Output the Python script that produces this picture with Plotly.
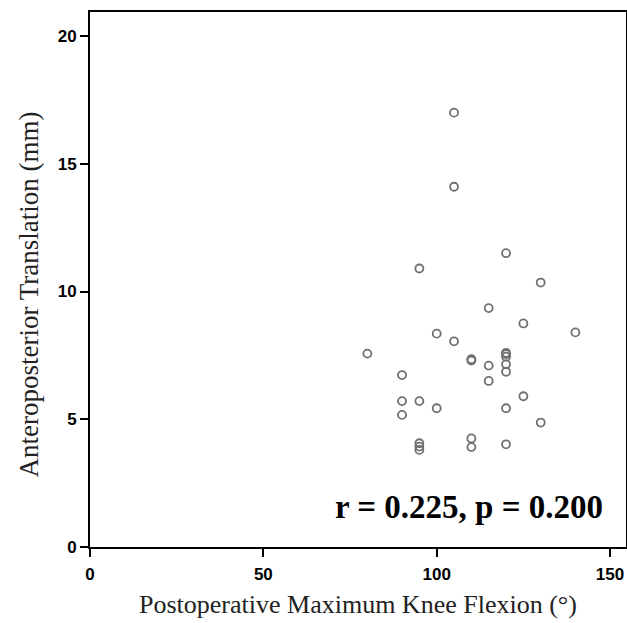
import plotly.graph_objects as go

flexion = [105, 105, 120, 95, 130, 115, 125, 140, 100, 105, 80,
           120, 120, 120, 120, 120, 110, 110, 115, 90, 115, 125,
           90, 95, 100, 120, 90, 130, 110, 110, 120, 95, 95, 95]
translation = [17.0, 14.1, 11.5, 10.9, 10.35, 9.35, 8.75, 8.4, 8.35, 8.05, 7.57,
               7.6, 7.55, 7.45, 7.15, 6.86, 7.35, 7.3, 7.1, 6.73, 6.5, 5.9,
               5.71, 5.71, 5.43, 5.43, 5.17, 4.87, 4.25, 3.91, 4.02, 4.06, 3.93, 3.8]

x_ticks = [0, 50, 100, 150]
y_ticks = [0, 5, 10, 15, 20]
x_title = "Postoperative Maximum Knee Flexion (°)"
y_title = "Anteroposterior Translation (mm)"
stat_text = "r = 0.225, p = 0.200"

fig = go.Figure()
fig.add_trace(go.Scatter(
    x=flexion, y=translation, mode="markers",
    marker=dict(symbol="circle-open", size=8, color="#707070",
                line=dict(width=1.8, color="#707070")),
    showlegend=False, hoverinfo="skip"))

axis_common = dict(
    showline=True, linecolor="black", linewidth=2, mirror=True,
    ticks="outside", ticklen=8, tickwidth=2, tickcolor="black",
    showgrid=False, zeroline=False, automargin=False,
    tickfont=dict(family="Liberation Sans, Arial, sans-serif", size=17, color="black", weight="bold"),
)

serif = "Liberation Serif, Times New Roman, serif"

fig.update_xaxes(range=[0, 154.6], tickvals=x_ticks, ticklabelstandoff=3, **axis_common)
fig.update_yaxes(range=[0, 20.94], tickvals=y_ticks, **axis_common)

# axis titles (placed as annotations for exact positioning)
fig.add_annotation(x=0.5, y=0, xref="paper", yref="paper", text=x_title,
                   showarrow=False, xanchor="center", yanchor="middle", yshift=-57,
                   font=dict(family=serif, size=26, color="#222"))
fig.add_annotation(x=0, y=0.5, xref="paper", yref="paper", text=y_title,
                   showarrow=False, textangle=-90, xanchor="center", yanchor="middle",
                   xshift=-62, yshift=-15,
                   font=dict(family=serif, size=27, color="#222"))

fig.add_annotation(x=148.6, y=1.57, xref="x", yref="y", text=stat_text,
                   showarrow=False, xanchor="right", yanchor="middle",
                   font=dict(family=serif, size=33, color="black", weight="bold"))

fig.update_layout(width=627, height=623,
                  margin=dict(l=90, r=1, t=12, b=76),
                  paper_bgcolor="white", plot_bgcolor="white")

fig.write_html("out.html", config={"displayModeBar": False},
               post_script="document.body.style.margin='0';document.body.style.overflow='hidden';")
